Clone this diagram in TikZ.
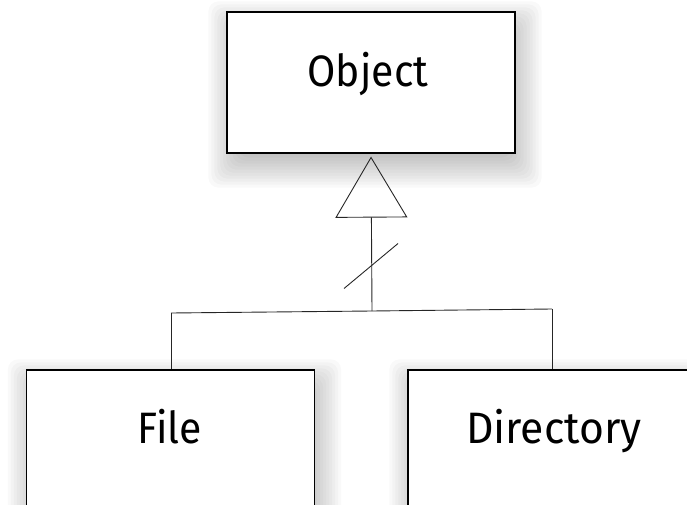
\documentclass[tikz,border=0pt]{standalone}
\usepackage{fontspec}
\setmainfont{Fira Sans}
\usetikzlibrary{arrows.meta,calc,backgrounds}
\begin{document}
\begin{tikzpicture}[x=1pt,y=1pt,
  classbox/.style={draw=black,line width=1.2pt,fill=white,rectangle,
    minimum width=288pt,minimum height=141pt,inner sep=0pt},
  classname/.style={anchor=base,font=\fontsize{44}{50}\selectfont,inner sep=0pt},
  link/.style={draw=black!85,line width=0.9pt},
  inherit/.style={link,-{Triangle[open,length=61pt,width=72pt,line width=0.9pt]},shorten >=3pt},
  shadowlayer/.style={fill=black,opacity=0.022,rounded corners=10pt}
]
\useasboundingbox (0,0) rectangle (687,-505);
\clip (0,0) rectangle (687,-505);

% classes
\node[classbox] (obj)  at (371,-82.5)  {};
\node[classbox] (file) at (170.5,-440.5) {};
\node[classbox] (dir)  at (552,-440.5) {};

% soft drop shadows behind the class boxes
\begin{scope}[on background layer]
  \foreach \n in {obj,file,dir}{
    \foreach \r in {22,19,...,-14}{
      \path[shadowlayer] ($(\n.south west)+(4-\r,-12-\r)$) rectangle ($(\n.north east)+(4+\r,-12+\r)$);
    }
  }
\end{scope}

\node[classname] (objname)  at (368,-87)  {\scalebox{0.93}[1]{Object}};
\node[classname] (filename) at (169.5,-443) {\scalebox{0.93}[1]{File}};
\node[classname] (dirname)  at (554,-443) {\scalebox{0.97}[1]{Directory}};

% tree junctions
\coordinate (jmid)   at (372,-311);
\coordinate (jleft)  at (171,-313);
\coordinate (jright) at (552,-309);

% generalization
\draw[inherit] (jmid) -- (obj.south);
\draw[link] (jleft) -- (jmid) -- (jright);
\draw[link] (jleft) -- (jleft |- file.north);
\draw[link] (jright) -- (jright |- dir.north);

% break mark on the stem
\coordinate (slashc) at (371,-266);
\draw[link] ($(slashc)+(-27,-22.5)$) -- ($(slashc)+(27,22.5)$);
\end{tikzpicture}
\end{document}
